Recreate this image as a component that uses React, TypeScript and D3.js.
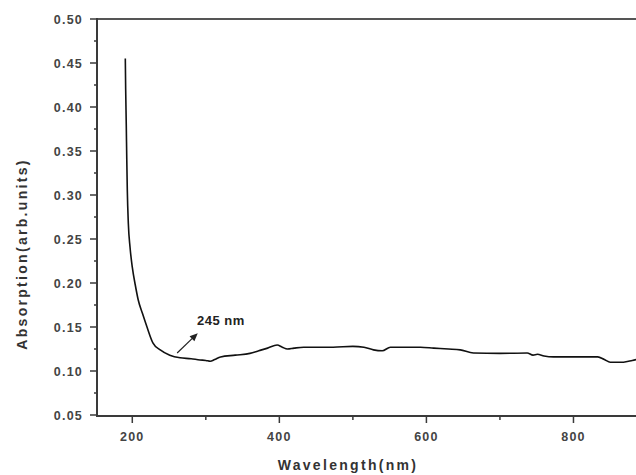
import React from "react";
import * as d3 from "d3";

const wavelength = [190.5, 191, 191.8, 192.5, 193.2, 194.6, 197, 200, 204, 208, 214, 220, 228, 238, 251, 265, 280, 292, 300, 306, 312, 320, 340, 360, 372, 384, 397, 404, 411, 420, 433, 450, 473, 500, 515, 528, 540, 551, 570, 592, 610, 630, 646, 664, 700, 737, 745, 751, 760, 773, 800, 833, 842, 850, 868, 880, 890];
const absorbance = [0.455, 0.42, 0.38, 0.34, 0.306, 0.268, 0.24, 0.218, 0.198, 0.181, 0.165, 0.15, 0.132, 0.124, 0.118, 0.115, 0.114, 0.1125, 0.112, 0.111, 0.113, 0.116, 0.118, 0.12, 0.123, 0.126, 0.1295, 0.127, 0.125, 0.126, 0.127, 0.127, 0.127, 0.128, 0.127, 0.124, 0.123, 0.127, 0.127, 0.127, 0.126, 0.125, 0.124, 0.1205, 0.12, 0.1205, 0.118, 0.119, 0.117, 0.116, 0.116, 0.116, 0.113, 0.11, 0.11, 0.112, 0.114];
const yTicks = [0.05, 0.1, 0.15, 0.2, 0.25, 0.3, 0.35, 0.4, 0.45, 0.5];
const yMinor = [0.075, 0.125, 0.175, 0.225, 0.275, 0.325, 0.375, 0.425, 0.475];
const xTicks = [200, 400, 600, 800];
const xMinor = [300, 500, 700];
const annotation = { label: "245 nm", from: [261, 0.1205], to: [289, 0.143] };
const xTitle = "Wavelength(nm)";
const yTitle = "Absorption(arb.units)";

export default function App() {
  const x = d3.scaleLinear().domain([152, 900]).range([97, 647]);
  const y = d3.scaleLinear().domain([0.05, 0.5]).range([415, 19]);
  const line = d3
    .line<number>()
    .x((_, i) => x(wavelength[i]))
    .y((d) => y(d))
    .curve(d3.curveMonotoneX);
  const fmt = d3.format(".2f");
  const axisColor = "#3a3a3a";
  const font = "'Liberation Sans', Arial, sans-serif";
  const ax0 = x(annotation.from[0]);
  const ay0 = y(annotation.from[1]);
  const ax1 = x(annotation.to[0]);
  const ay1 = y(annotation.to[1]);
  const ang = Math.atan2(ay1 - ay0, ax1 - ax0);
  const hl = 8, hw = 3.5;
  const head = [
    [ax1, ay1],
    [ax1 - hl * Math.cos(ang) + hw * Math.sin(ang), ay1 - hl * Math.sin(ang) - hw * Math.cos(ang)],
    [ax1 - hl * Math.cos(ang) - hw * Math.sin(ang), ay1 - hl * Math.sin(ang) + hw * Math.cos(ang)],
  ];
  return (
    <svg width={636} height={475} style={{ position: "absolute", left: 0, top: 0, background: "#fff" }}>
      <rect x={0} y={0} width={636} height={475} fill="#fff" />
      <path d={line(absorbance) || ""} fill="none" stroke="#111" strokeWidth={1.6} />
      {/* annotation */}
      <line x1={ax0} y1={ay0} x2={ax1 - 5 * Math.cos(ang)} y2={ay1 - 5 * Math.sin(ang)} stroke="#222" strokeWidth={1.2} />
      <polygon points={head.map((p) => p.join(",")).join(" ")} fill="#222" />
      <text x={197} y={325} fontFamily={font} fontWeight="bold" fontSize={13} fill="#222" letterSpacing={0.5}>
        {annotation.label}
      </text>
      {/* frame */}
      <line x1={97} y1={19} x2={636} y2={19} stroke="#555" strokeWidth={2} />
      <line x1={97} y1={18} x2={97} y2={416} stroke={axisColor} strokeWidth={2} />
      <line x1={96} y1={416} x2={636} y2={416} stroke={axisColor} strokeWidth={2} />
      {yTicks.map((t) => (
        <g key={"y" + t}>
          <line x1={90} x2={97} y1={y(t)} y2={y(t)} stroke={axisColor} strokeWidth={1.5} />
          <text x={83} y={y(t) + 4.5} textAnchor="end" fontFamily={font} fontWeight="bold" fontSize={12.5} letterSpacing={1.2} fill="#444">
            {fmt(t)}
          </text>
        </g>
      ))}
      {yMinor.map((t) => (
        <line key={"ym" + t} x1={94} x2={97} y1={y(t)} y2={y(t)} stroke={axisColor} strokeWidth={1.5} />
      ))}
      {xTicks.map((t) => (
        <g key={"x" + t}>
          <line x1={x(t)} x2={x(t)} y1={416} y2={423} stroke={axisColor} strokeWidth={1.5} />
          <text x={x(t)} y={441} textAnchor="middle" fontFamily={font} fontWeight="bold" fontSize={12.5} letterSpacing={1.2} fill="#444">
            {t}
          </text>
        </g>
      ))}
      {xMinor.map((t) => (
        <line key={"xm" + t} x1={x(t)} x2={x(t)} y1={416} y2={420} stroke={axisColor} strokeWidth={1.5} />
      ))}
      <text x={348} y={470} textAnchor="middle" fontFamily={font} fontWeight="bold" fontSize={14} letterSpacing={2.3} fill="#333">
        {xTitle}
      </text>
      <text
        transform={`translate(27,254) rotate(-90)`}
        textAnchor="middle"
        fontFamily={font}
        fontWeight="bold"
        fontSize={14}
        letterSpacing={2.3}
        fill="#333"
      >
        {yTitle}
      </text>
    </svg>
  );
}
